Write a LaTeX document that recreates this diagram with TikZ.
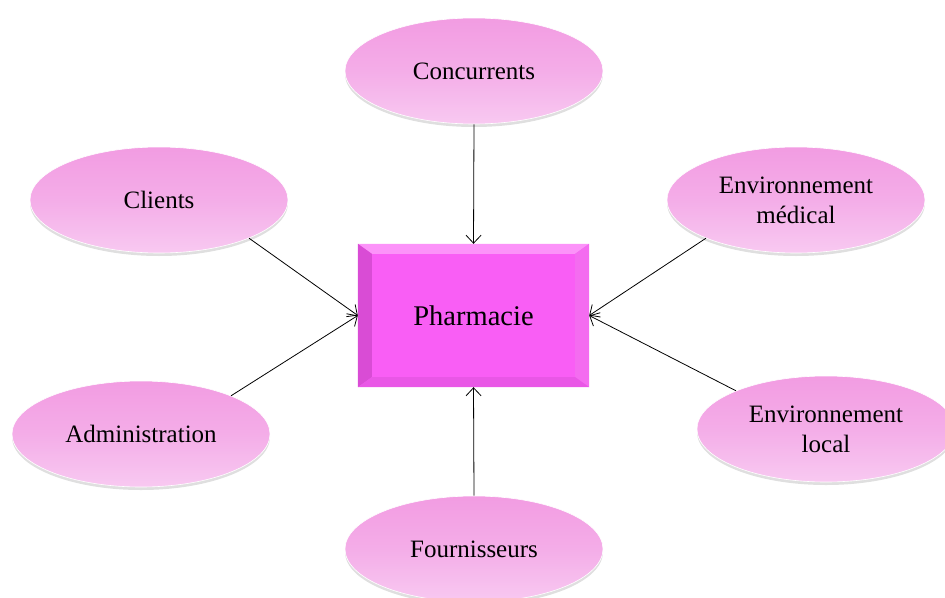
\documentclass[tikz,border=0pt]{standalone}
\usepackage{fontspec}
\setmainfont{Liberation Serif}
\usetikzlibrary{shapes.geometric,arrows.meta,shadows,calc}
\definecolor{elltop}{HTML}{F29CE2}
\definecolor{ellbot}{HTML}{F8C9F1}
\definecolor{ellmid}{HTML}{F4ADE8}
\definecolor{rectfill}{HTML}{F95EF5}
\definecolor{bevtop}{HTML}{FC93F9}
\definecolor{bevleft}{HTML}{D94CD5}
\definecolor{bevright}{HTML}{F46CF0}
\definecolor{bevbot}{HTML}{E957E6}
\begin{document}
\begin{tikzpicture}[x=1pt,y=-1pt,
  oval/.style={ellipse, minimum width=258pt, minimum height=106pt, inner sep=0pt,
    top color=elltop, bottom color=ellbot, middle color=ellmid,
    draw=white, line width=0.6pt,
    drop shadow={opacity=0.25, shadow xshift=0pt, shadow yshift=-3pt},
    align=center, font=\fontsize{25}{30}\selectfont},
  mainbox/.style={rectangle, minimum width=231pt, minimum height=143pt, inner sep=0pt,
    fill=rectfill, font=\fontsize{28.5}{32}\selectfont},
  link/.style={-{Straight Barb[length=8pt,width=15pt]}, line width=0.8pt, black}]
\useasboundingbox (0,0) rectangle (945,597);
% central box
\node[mainbox] (ph) at (473.5,315.5) {};
\fill[bevtop] (ph.north west) -- (ph.north east) -- ($(ph.north east)+(-14,10)$) -- ($(ph.north west)+(14,10)$) -- cycle;
\fill[bevleft] (ph.north west) -- ($(ph.north west)+(14,10)$) -- ($(ph.south west)+(14,-10)$) -- (ph.south west) -- cycle;
\fill[bevright] (ph.north east) -- ($(ph.north east)+(-14,10)$) -- ($(ph.south east)+(-14,-10)$) -- (ph.south east) -- cycle;
\fill[bevbot] (ph.south west) -- ($(ph.south west)+(14,-10)$) -- ($(ph.south east)+(-14,-10)$) -- (ph.south east) -- cycle;
\node[font=\fontsize{28.5}{32}\selectfont] (phtxt) at (ph.center) {Pharmacie};
% ellipses
\node[oval] (cc) at (474,71) {Concurrents};
\node[oval] (cl) at (159,200) {Clients};
\node[oval] (em) at (796,200) {Environnement\\médical};
\node[oval] (ad) at (141,434) {Administration};
\node[oval] (el) at (826,429) {Environnement\\local};
\node[oval] (fo) at (474,549) {Fournisseurs};
% connectors
\draw[link] (cc.south) -- (ph.north);
\draw[link] (fo.north) -- (ph.south);
\draw[link] (cl.-23) -- (ph.west);
\draw[link] (ad.23) -- (ph.west);
\draw[link] (em.-157) -- (ph.east);
\draw[link] (el.157) -- (ph.east);
\end{tikzpicture}
\end{document}
